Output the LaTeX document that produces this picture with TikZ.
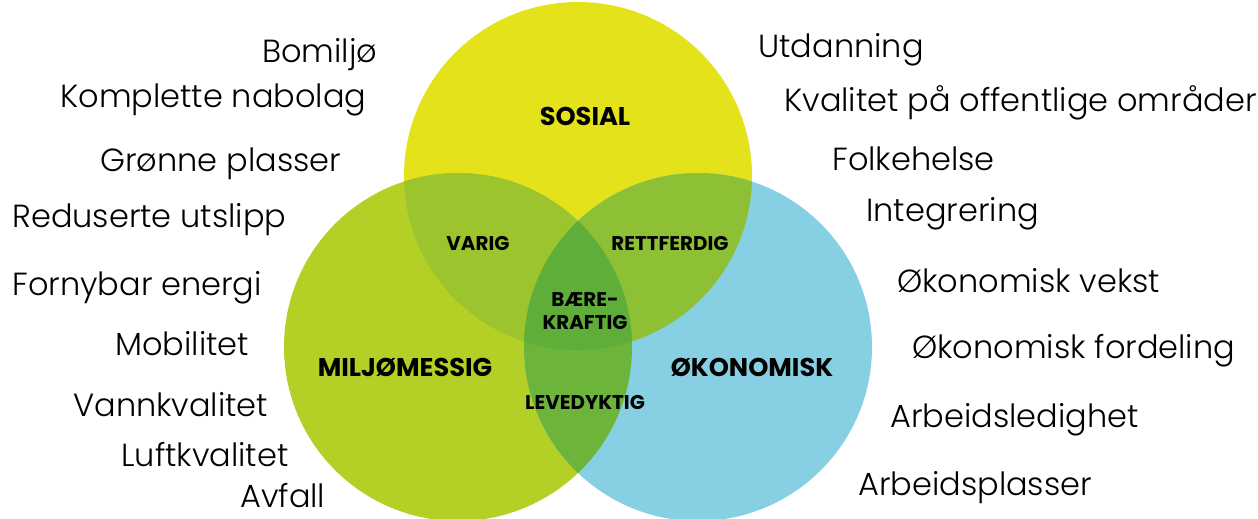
\documentclass[tikz,border=0pt]{standalone}
\usepackage{fontspec}
\setmainfont{Poppins}[UprightFont={* Light},BoldFont={* Bold}]
\usepackage{tikz}
\usetikzlibrary{positioning}
\definecolor{sosgul}{HTML}{E3E21B}
\definecolor{miljgronn}{HTML}{B4CF25}
\definecolor{okoblaa}{HTML}{87D0E3}
\definecolor{sosmilj}{HTML}{9CC42C}
\definecolor{sosoko}{HTML}{8DC034}
\definecolor{miljoko}{HTML}{6CB43A}
\definecolor{midt}{HTML}{5FAE3A}
\tikzset{
  tema/.style={font=\bfseries\fontsize{14.6}{16}\selectfont},
  snitt/.style={font=\bfseries\fontsize{11.3}{13}\selectfont,align=center},
  punkt/.style={font=\fontsize{18.2}{21}\selectfont,inner sep=0pt,anchor=base west}
}

\begin{document}
\begin{tikzpicture}[x=0.02cm,y=-0.02cm]
                 \useasboundingbox (0,0) rectangle (1258,518);
                 % sirklene
                 \fill[sosgul] (578,176) circle[radius=174];
                 \fill[miljgronn] (458,347) circle[radius=174];
                 \fill[okoblaa] (698,347) circle[radius=174];
                 \begin{scope}
                   \clip (578,176) circle[radius=174];
                   \fill[sosmilj] (458,347) circle[radius=174];
                   \fill[sosoko] (698,347) circle[radius=174];
                 \end{scope}
                 \begin{scope}
                   \clip (458,347) circle[radius=174];
                   \fill[miljoko] (698,347) circle[radius=174];
                   \clip (698,347) circle[radius=174];
                   \fill[midt] (578,176) circle[radius=174];
                 \end{scope}
                 % navn i sirklene
                 \node[tema](sos)at(585,116){SOSIAL};
                 \node[tema](milj)at(405,367){MILJØMESSIG};
                 \node[tema](oko)at(752,367){ØKONOMISK};
                 \node[snitt](varig)at(478,243){VARIG};
                 \node[snitt](rett)at(670,243){RETTFERDIG};
                 \node[snitt](baer)at(585,311){BÆRE-\\KRAFTIG};
                 \node[snitt](leve)at(585,402){LEVEDYKTIG};
                 % venstre side
                 \node[punkt](bo)at(262,62){Bomiljø};
                 \node[punkt](komp)at(60,107){Komplette nabolag};
                 \node[punkt](gronn)at(100,171){Grønne plasser};
                 \node[punkt](utsl)at(12,227){Reduserte utslipp};
                 \node[punkt](forn)at(12,295){Fornybar energi};
                 \node[punkt](mob)at(115,355){Mobilitet};
                 \node[punkt](vann)at(73,416){Vannkvalitet};
                 \node[punkt](luft)at(121,466){Luftkvalitet};
                 \node[punkt](avf)at(240,507){Avfall};
                 % høyre side
                 \node[punkt](utd)at(758,57){Utdanning};
                 \node[punkt](kval)at(784,111){Kvalitet på offentlige områder};
                 \node[punkt](folk)at(832,170){Folkehelse};
                 \node[punkt](integ)at(866,221){Integrering};
                 \node[punkt](vekst)at(897,292){Økonomisk vekst};
                 \node[punkt](ford)at(912,358){Økonomisk fordeling};
                 \node[punkt](led)at(890,427){Arbeidsledighet};
                 \node[punkt](plass)at(858,495){Arbeidsplasser};
\end{tikzpicture}
\end{document}
